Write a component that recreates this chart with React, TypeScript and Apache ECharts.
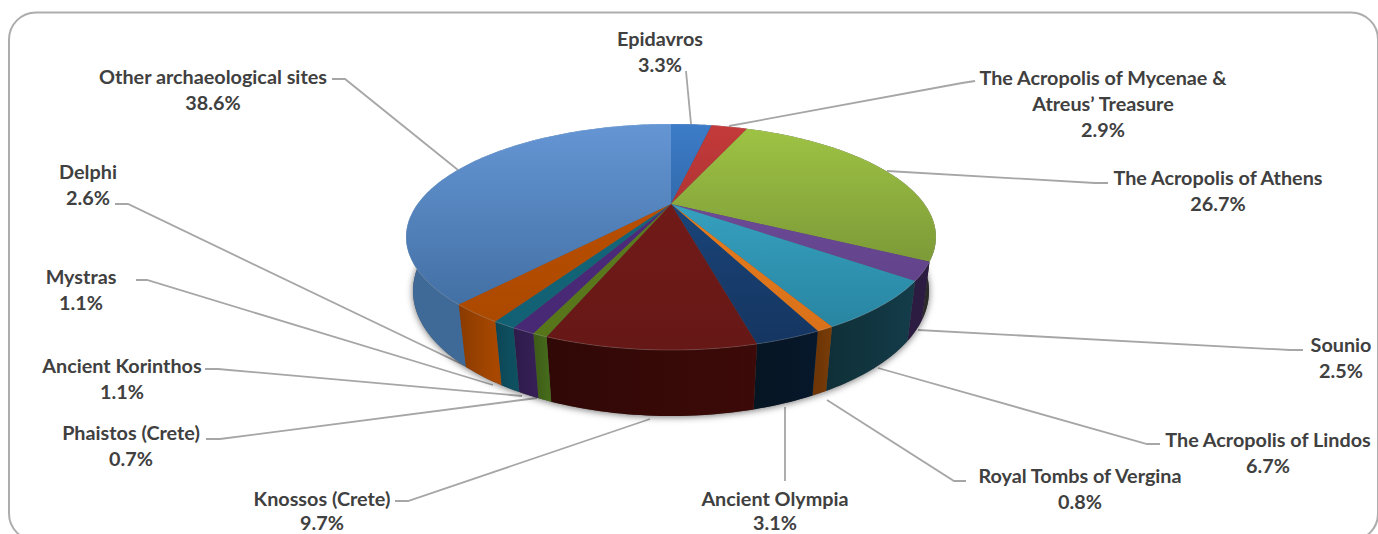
import React, { useEffect, useRef } from "react";
import * as echarts from "echarts";

const siteNames = [
  "Epidavros",
  "The Acropolis of Mycenae &\nAtreus’ Treasure",
  "The Acropolis of Athens",
  "Sounio",
  "The Acropolis of Lindos",
  "Royal Tombs of Vergina",
  "Ancient Olympia",
  "Knossos (Crete)",
  "Phaistos (Crete)",
  "Ancient Korinthos",
  "Mystras",
  "Delphi",
  "Other archaeological sites",
];
const sharePercent = [3.3, 2.9, 26.7, 2.5, 6.7, 0.8, 3.1, 9.7, 0.7, 1.1, 1.1, 2.6, 38.6];

const faceLight = ["#3c7cc8", "#c43a3a", "#9fc444", "#7652a4", "#3eb2d2", "#ec821f", "#1c4c86", "#781c1a", "#5f7f20", "#4f2d80", "#156a80", "#c25200", "#6596d4"];
const faceDark = ["#204a7a", "#8c2a2a", "#668030", "#5a3c80", "#26809c", "#d8701a", "#153560", "#661816", "#567519", "#472873", "#125f72", "#a84800", "#3a6698"];
const wallStart = ["#204a7a", "#5c1c1c", "#2e3020", "#2c1c42", "#143c4a", "#7a3d08", "#07182c", "#3c0a08", "#456a1a", "#351f55", "#0e5060", "#a84800", "#3f6a98"];
const wallEnd = ["#204a7a", "#5c1c1c", "#2a2a28", "#2c1c42", "#0f3038", "#6e3606", "#061522", "#300806", "#3d5a18", "#2e1b4a", "#0c4656", "#8a3a00", "#3f73ae"];

const labelCenters = [
  [660, 51], [1103, 103], [1218, 190], [1341, 357], [1268, 452], [1080, 488], [775, 509.8],
  [322, 509.8], [131, 445], [122, 378], [81, 289], [88, 184], [213, 89],
];
const labelLineHeights = [26, 26, 26, 26, 26, 26, 24, 24, 26, 26, 26, 26, 26];
const leaderPaths = [
  [[686, 71], [691, 124]],
  [[729, 126], [962, 83], [975, 81]],
  [[887, 171], [1095, 183], [1108, 183]],
  [[918, 330], [1290, 350], [1303, 350]],
  [[878, 368], [1147, 444], [1160, 444]],
  [[827, 400], [954, 481], [966, 481]],
  [[785, 407], [785, 481]],
  [[650, 419], [408, 501], [395, 501]],
  [[537, 398], [220, 439], [206, 439]],
  [[522, 396], [218, 369], [205, 369]],
  [[493, 385], [147, 280], [136, 280]],
  [[470, 368], [128, 204], [115, 204]],
  [[458, 170], [345, 79], [332, 79]],
];

const total = sharePercent.reduce((a, b) => a + b, 0);
const cumulative: number[] = [];
sharePercent.reduce((acc, v, i) => ((cumulative[i] = acc), acc + v), 0);

// Perspective projection of the unit disc onto the screen
const topPlane = { cx: 671, cy: 204, a: 103.4, b: 253.4, k: 0.292 };
const basePlane = { cx: 671, cy: 256, a: 115.2, b: 247.7, k: 0.28 };

function project(plane: typeof topPlane, theta: number) {
  const X = Math.sin(theta);
  const Y = -Math.cos(theta);
  const w = 1 - plane.k * Y;
  return [plane.cx + (plane.b * X) / w, plane.cy + (plane.a * Y) / w];
}

function arcPoints(plane: typeof topPlane, t0: number, t1: number) {
  const steps = Math.max(2, Math.ceil(Math.abs(t1 - t0) / 0.02));
  const pts: number[][] = [];
  for (let i = 0; i <= steps; i++) pts.push(project(plane, t0 + ((t1 - t0) * i) / steps));
  return pts;
}

function sliceAngles(index: number, value: number) {
  const t0 = (cumulative[index] / total) * Math.PI * 2;
  return [t0, t0 + (value / total) * Math.PI * 2];
}

function renderWall(params: any, api: any) {
  const i = params.dataIndex;
  const [t0, t1] = sliceAngles(i, api.value(0));
  const top = arcPoints(topPlane, t0, t1);
  const base = arcPoints(basePlane, t0, t1).reverse();
  const a = top[0];
  const b = top[top.length - 1];
  const wall = {
    type: "polygon",
    shape: { points: top.concat(base) },
    style: {
      fill: {
        type: "linear", global: true,
        x: Math.min(a[0], b[0]), y: 0, x2: Math.max(a[0], b[0]) + 1, y2: 0,
        colorStops: [
          { offset: 0, color: a[0] < b[0] ? wallStart[i] : wallEnd[i] },
          { offset: 1, color: a[0] < b[0] ? wallEnd[i] : wallStart[i] },
        ],
      },
    },
  };
  if (i === 0) {
    return {
      type: "group",
      children: [
        {
          type: "polygon",
          shape: { points: arcPoints(basePlane, 0, Math.PI * 2) },
          style: { fill: "#555", shadowBlur: 7, shadowColor: "rgba(0,0,0,0.55)", shadowOffsetY: 1 },
        },
        wall,
      ],
    };
  }
  return wall;
}

function renderFace(params: any, api: any) {
  const i = params.dataIndex;
  const [t0, t1] = sliceAngles(i, api.value(0));
  const rim = arcPoints(topPlane, t0, t1);
  return {
    type: "group",
    children: [
      {
        type: "polygon",
        shape: { points: [[topPlane.cx, topPlane.cy], ...rim] },
        style: {
          fill: {
            type: "linear", global: true, x: 0, y: 124, x2: 0, y2: 350,
            colorStops: [
              { offset: 0, color: faceLight[i] },
              { offset: 1, color: faceDark[i] },
            ],
          },
        },
      },
      {
        type: "polyline",
        shape: { points: rim },
        style: { fill: "none", stroke: "rgba(255,255,255,0.16)", lineWidth: 1 },
      },
    ],
  };
}

export default function App() {
  const ref = useRef<HTMLDivElement>(null);
  useEffect(() => {
    const chart = echarts.init(ref.current!, undefined, { renderer: "svg" });
    const graphic: any[] = [
      {
        type: "rect",
        z: 0,
        shape: { x: 9, y: 12.5, width: 1369, height: 528, r: 27 },
        style: { fill: "#fff", stroke: "#adadad", lineWidth: 2 },
      },
    ];
    leaderPaths.forEach((points) => {
      graphic.push({
        type: "polyline",
        z: 1,
        shape: { points },
        style: { fill: "none", stroke: "#a6a6a6", lineWidth: 1.8 },
      });
    });
    siteNames.forEach((name, i) => {
      graphic.push({
        type: "text",
        z: 5,
        x: labelCenters[i][0],
        y: labelCenters[i][1],
        style: {
          text: `${name}\n${sharePercent[i].toFixed(1)}%`,
          font: 'bold 19.8px Lato, "Noto Sans", sans-serif',
          fill: "#404040",
          align: "center",
          verticalAlign: "middle",
          lineHeight: labelLineHeights[i],
        },
      });
    });
    const seriesData = siteNames.map((name, i) => ({ name, value: sharePercent[i] }));
    chart.setOption({
      animation: false,
      graphic,
      series: [
        { type: "custom", coordinateSystem: "none", z: 2, silent: true, renderItem: renderWall, data: seriesData },
        { type: "custom", coordinateSystem: "none", z: 3, silent: true, renderItem: renderFace, data: seriesData },
      ],
    });
    return () => chart.dispose();
  }, []);
  return <div ref={ref} style={{ position: "absolute", left: 0, top: 0, width: 1378, height: 534 }} />;
}
